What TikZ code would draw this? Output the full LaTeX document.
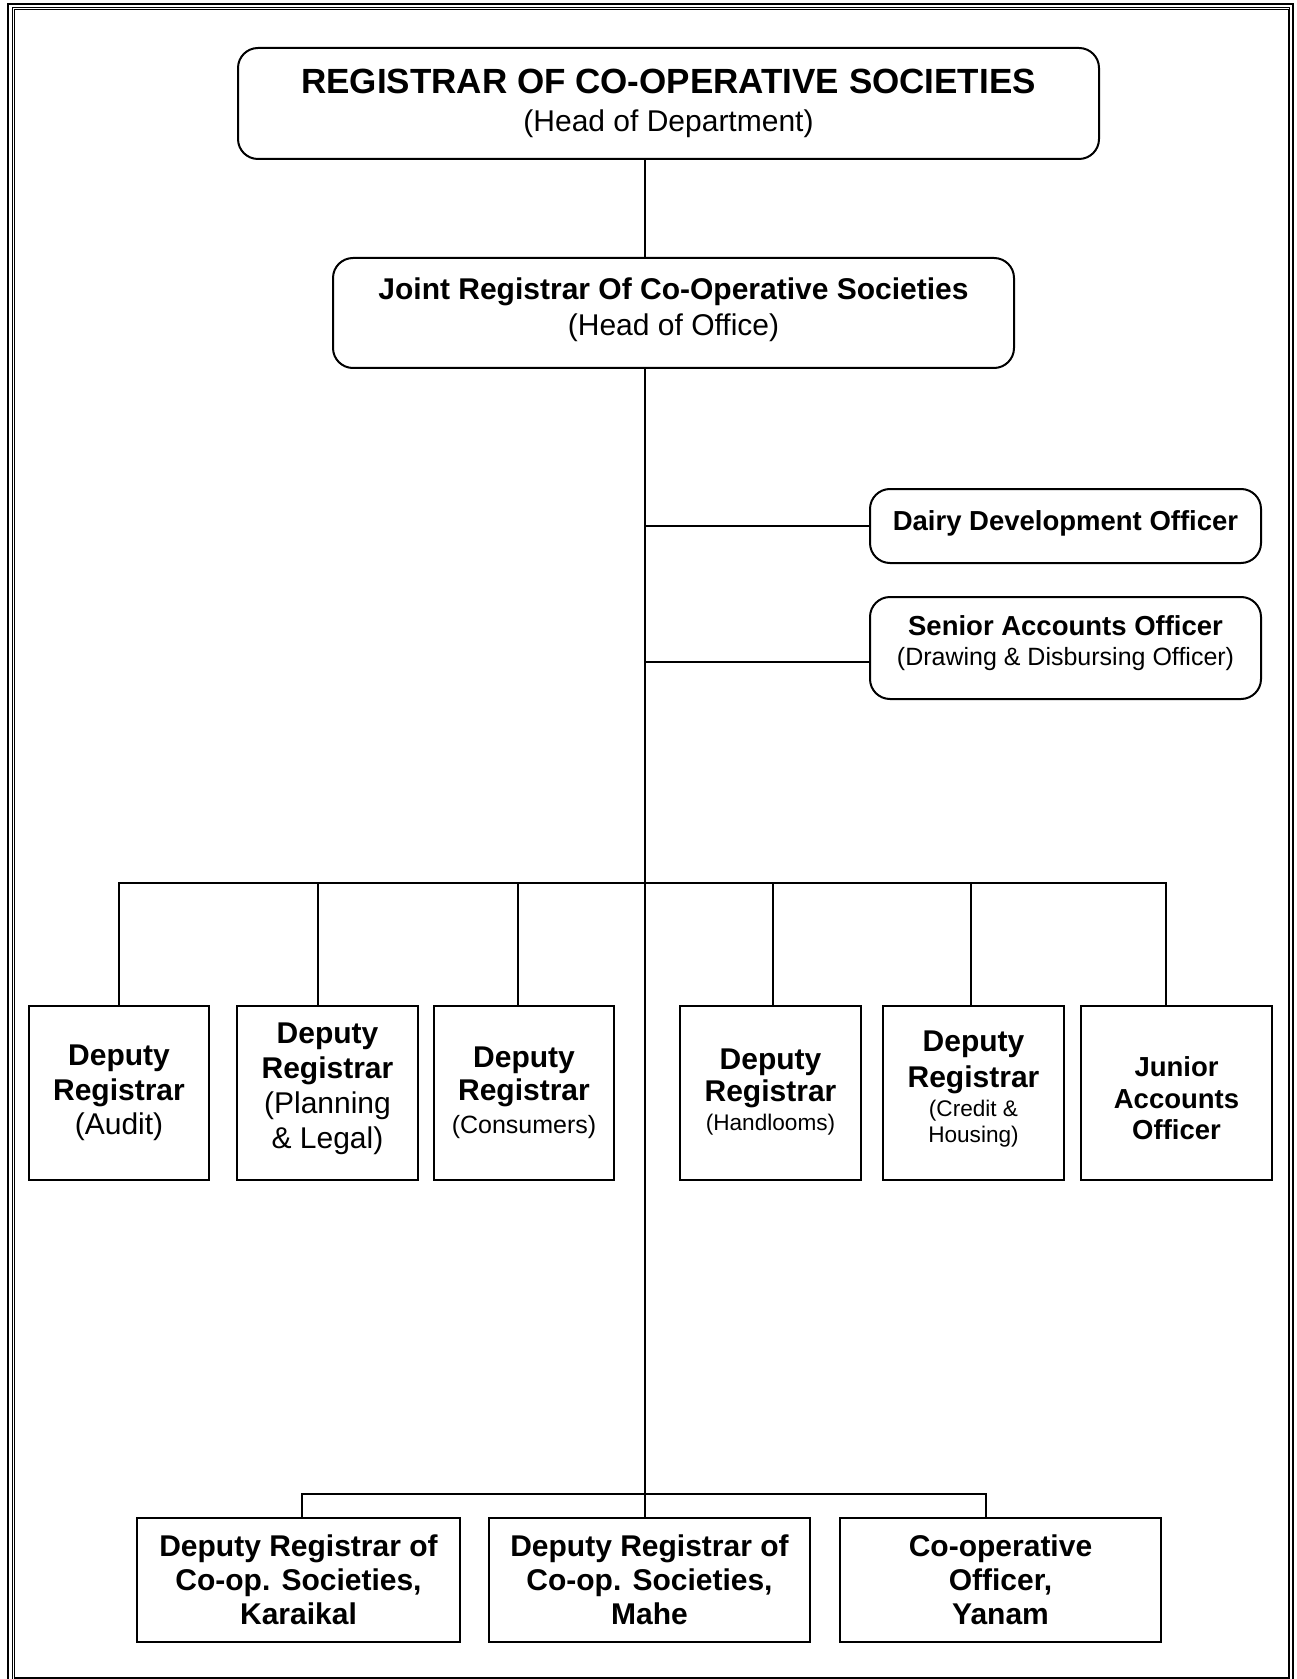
\documentclass[tikz,border=0pt]{standalone}
\usepackage{fontspec}
\setmainfont{Liberation Sans}
\newcommand\fsz[2]{\fontsize{#1}{#2}\selectfont}
\newcommand\dep[1]{\rule[-#1]{0pt}{#1}}
\begin{document}
\begin{tikzpicture}[x=0.5pt,y=-0.5pt,
  box/.style={draw, line width=1pt, inner sep=0pt, align=center},
  rbox/.style={box, rounded corners=10pt},
  conn/.style={line width=0.65pt}]
\useasboundingbox (0,0) rectangle (1296,1679);
% border
\draw[line width=1pt] (8.3,3.7) rectangle (1293.3,1686);
\draw[line width=0.4pt] (12.3,7.7) rectangle (1289.5,1681);
\draw[line width=0.65pt] (14.7,9.7) rectangle (1288.7,1678);

% top level
\node[rbox, minimum width=430.5pt, minimum height=55.5pt, font=\fsz{15}{18.8}] (top) at (668.5,103.5)
  {{\fsz{17.5}{21}\bfseries REGISTRAR OF CO-OPERATIVE SOCIETIES}\\(Head of Department)};
\node[rbox, minimum width=340.5pt, minimum height=55pt, font=\fsz{15}{18.3}] (joint) at (673.5,313)
  {\bfseries Joint Registrar Of Co-Operative Societies\\(Head of Office)\dep{6.4pt}};
\node[rbox, minimum width=195.5pt, minimum height=37pt, font=\fsz{13.75}{16}\bfseries] (dairy) at (1065.5,526)
  {\raisebox{5.6pt}{Dairy Development Officer}};
\node[rbox, minimum width=195.5pt, minimum height=51pt, font=\fsz{12.5}{15}] (senior) at (1065.5,648)
  {{\fsz{13.75}{16}\bfseries Senior Accounts Officer}\\(Drawing \& Disbursing Officer)\dep{7.4pt}};

% middle row
\node[box, minimum width=90pt, minimum height=87pt, font=\fsz{15}{17.2}] (d1) at (119,1093)
  {\bfseries Deputy\\\bfseries Registrar\\(Audit)};
\node[box, minimum width=90.5pt, minimum height=87pt, font=\fsz{15}{17.5}] (d2) at (327.5,1093)
  {\bfseries Deputy\\\bfseries Registrar\\(Planning\\\& Legal)\dep{7pt}};
\node[box, minimum width=90pt, minimum height=87pt, font=\fsz{15}{16.5}] (d3) at (524,1093)
  {\bfseries Deputy\\\bfseries Registrar\\{\fsz{12.5}{15}(Consumers)}};
\node[box, minimum width=90.5pt, minimum height=87pt, font=\fsz{15}{16.2}] (d4) at (770.5,1093)
  {\bfseries Deputy\\\bfseries Registrar\\[-1.6pt]{\fsz{11.3}{14}(Handlooms)}\dep{3.4pt}};
\node[box, minimum width=90.5pt, minimum height=87pt, font=\fsz{15}{17.7}] (d5) at (973.5,1093)
  {\bfseries Deputy\\\bfseries Registrar\\[-3.2pt]{\fsz{11.3}{14}(Credit \&}\\[-4.5pt]{\fsz{11.3}{14}Housing)}\dep{6.2pt}};
\node[box, minimum width=95.5pt, minimum height=87pt, font=\fsz{13.75}{15.8}\bfseries] (d6) at (1176.5,1093)
  {\rule{0pt}{15.25pt}Junior\\Accounts\\Officer};

% bottom row
\node[box, minimum width=161.5pt, minimum height=62pt, font=\fsz{15}{17.1}\bfseries] (b1) at (298.5,1580)
  {Deputy Registrar of\\Co-op. Societies,\\Karaikal};
\node[box, minimum width=160.5pt, minimum height=62pt, font=\fsz{15}{17.1}\bfseries] (b2) at (649.5,1580)
  {Deputy Registrar of\\Co-op. Societies,\\Mahe};
\node[box, minimum width=160.5pt, minimum height=62pt, font=\fsz{15}{17.1}\bfseries] (b3) at (1000.5,1580)
  {Co-operative\\Officer,\\Yanam};

% coordinates
\coordinate (sp) at (645,0);
\coordinate (bus) at (0,883);
\coordinate (bus2) at (0,1494);
\coordinate (d2t) at ([xshift=-4.75pt]d2.north);
\coordinate (d3t) at ([xshift=-3pt]d3.north);
\coordinate (d4t) at ([xshift=1.25pt]d4.north);
\coordinate (d5t) at ([xshift=-1.25pt]d5.north);
\coordinate (d6t) at ([xshift=-5.25pt]d6.north);
\coordinate (b1t) at ([xshift=1.75pt]b1.north);
\coordinate (b3t) at ([xshift=-7.25pt]b3.north);
\coordinate (st) at ([yshift=-7pt]senior.west);

% connectors
\draw[conn] (top.south -| sp) -- (joint.north -| sp);
\draw[conn] (joint.south -| sp) -- (b2.north -| sp);
\draw[conn] (sp |- dairy.west) -- (dairy.west);
\draw[conn] (sp |- st) -- (st);
\draw[conn] (d1.north) -- (d1.north |- bus) -- (d6t |- bus) -- (d6t);
\draw[conn] (d2t) -- (d2t |- bus);
\draw[conn] (d3t) -- (d3t |- bus);
\draw[conn] (d4t) -- (d4t |- bus);
\draw[conn] (d5t) -- (d5t |- bus);
\draw[conn] (b1t) -- (b1t |- bus2) -- (b3t |- bus2) -- (b3t);
\end{tikzpicture}
\end{document}
